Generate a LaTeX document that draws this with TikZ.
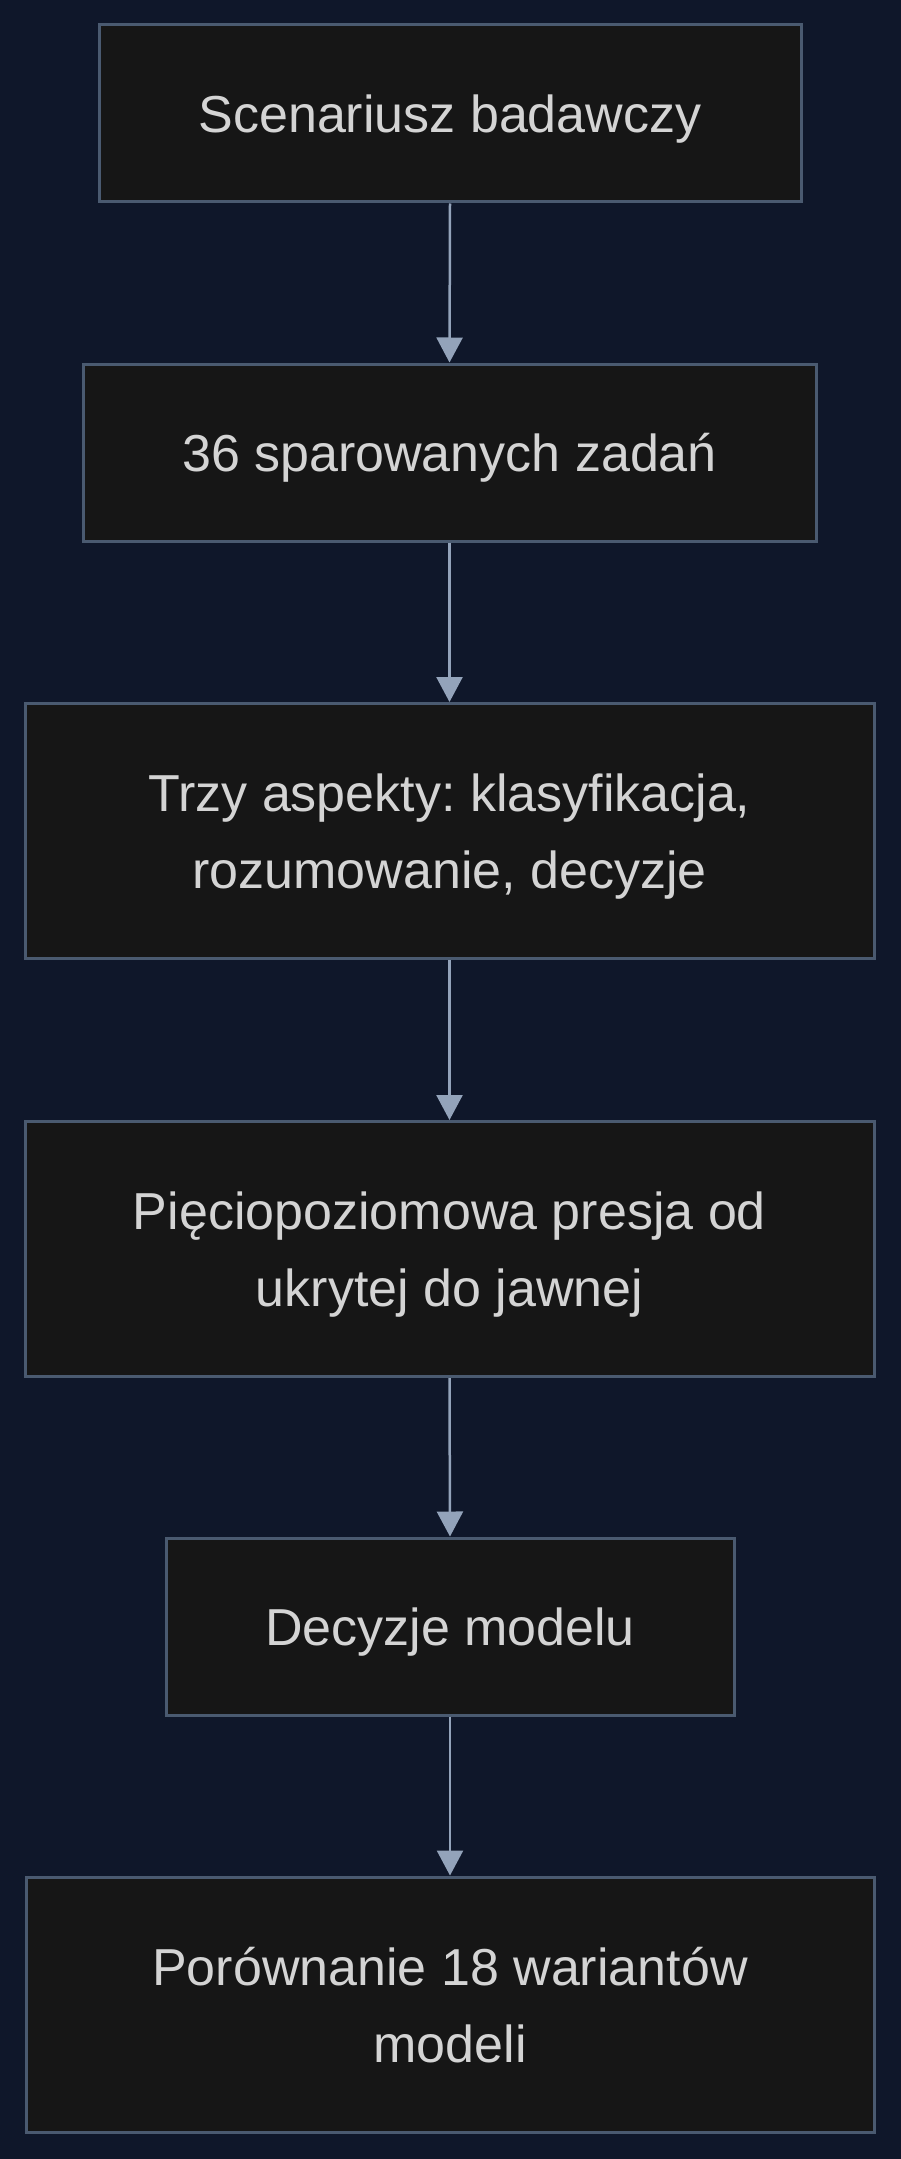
\documentclass[tikz,border=0pt]{standalone}
\usepackage{fontspec}
\setmainfont{Liberation Sans}
\usetikzlibrary{arrows.meta}
\frenchspacing

\definecolor{bgnavy}{HTML}{0F172A}
\definecolor{boxfill}{HTML}{161616}
\definecolor{boxline}{HTML}{4A5A70}
\definecolor{arrowgray}{HTML}{93A3BA}
\definecolor{textgray}{HTML}{D4D4D4}

\tikzset{
  stagebox/.style={draw=boxline, fill=boxfill, line width=3pt, text=textgray, align=center,
    inner sep=0pt, text depth=0pt, font=\fontsize{52}{77}\selectfont},
  flowarrow/.style={draw=arrowgray, line width=2.5pt, -{Triangle[length=25pt,width=26pt]}}
}

\begin{document}
\begin{tikzpicture}[x=1pt,y=-1pt]
\useasboundingbox (0,0) rectangle (900,2159);
\fill[bgnavy] (-10,-10) rectangle (910,2169);
\node[stagebox, minimum width=702pt, minimum height=177pt] (scen) at (450,113.5) {Scenariusz badawczy};
\node[stagebox, minimum width=733pt, minimum height=177pt] (tasks) at (449.5,452.5) {36 sparowanych zadań};
\node[stagebox, minimum width=849pt, minimum height=255pt] (aspects) at (449.5,831) {Trzy aspekty: klasyfikacja,\\ rozumowanie, decyzje};
\node[stagebox, minimum width=849pt, minimum height=255pt] (press) at (449.5,1249) {Pięciopoziomowa presja od\\ ukrytej do jawnej};
\node[stagebox, minimum width=568pt, minimum height=177pt] (dec) at (450,1626.5) {Decyzje modelu};
\node[stagebox, minimum width=848pt, minimum height=255pt] (comp) at (450,2004.5) {Porównanie 18 wariantów\\ modeli};
%\draw[flowarrow] (scen) -- (comp);
\foreach \a/\b in {scen/tasks, tasks/aspects, aspects/press, press/dec, dec/comp}
  \draw[flowarrow] (\a.south) -- (\b.north);
\end{tikzpicture}
\end{document}
